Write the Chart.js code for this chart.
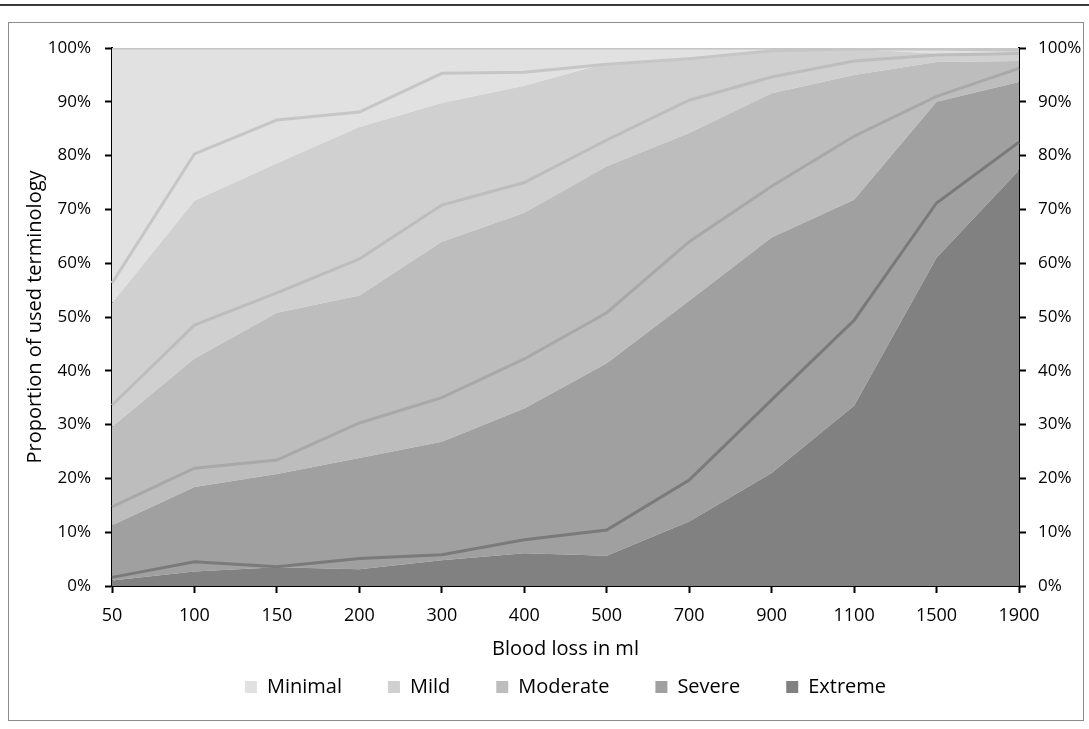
<!DOCTYPE html>
<html><head><meta charset="utf-8">
<script src="https://cdn.jsdelivr.net/npm/chart.js@4.4.1/dist/chart.umd.min.js"></script>
<style>
html,body{margin:0;padding:0;background:#fff;}
body{width:1089px;height:729px;position:relative;overflow:hidden;}
#topline{position:absolute;left:0;top:4px;width:1089px;height:2px;background:#3a3a3a;}
#frame{position:absolute;left:8px;top:22px;width:1074px;height:697px;border:1px solid #8c8c8c;}
#wrap{position:absolute;left:0;top:0;width:1074px;height:697px;}
</style></head><body>
<div id="topline"></div>
<div id="frame"><div id="wrap"><canvas id="c"></canvas></div></div>
<script>
// Categories (blood loss in ml)
const categories = ['50','100','150','200','300','400','500','700','900','1100','1500','1900'];
const yTickLabels = ['0%','10%','20%','30%','40%','50%','60%','70%','80%','90%','100%'];

// Group A (filled areas): proportion (%) of each term per category
const extremeA  = [1.0, 2.7, 3.5, 3.1, 4.8, 6.1, 5.6, 12.0, 21.0, 33.5, 61.0, 77.3];
const severeA   = [10.3, 15.7, 17.3, 20.7, 22.0, 26.9, 35.8, 41.0, 43.8, 38.3, 29.0, 16.4];
const moderateA = [18.3, 23.9, 30.0, 30.2, 37.2, 36.4, 36.6, 31.2, 26.8, 23.2, 7.4, 3.9];
const mildA     = [23.0, 29.3, 27.8, 31.3, 25.8, 23.6, 19.2, 13.8, 7.9, 4.8, 1.6, 1.6];
const minimalA  = [47.4, 28.4, 21.4, 14.7, 10.2, 7.0, 2.8, 2.0, 0.5, 0.2, 1.0, 0.8];

// Group B (lines): proportion (%) of each term per category
const extremeB  = [1.6, 4.5, 3.6, 5.1, 5.8, 8.6, 10.4, 19.7, 34.6, 49.4, 71.2, 82.5];
const severeB   = [13.1, 17.4, 19.8, 25.2, 29.2, 33.6, 40.4, 44.3, 39.7, 34.2, 19.8, 13.7];
const moderateB = [18.9, 26.6, 31.1, 30.5, 35.8, 32.8, 32.1, 26.3, 20.3, 14.0, 7.7, 2.8];
const mildB     = [22.7, 31.8, 32.1, 27.3, 24.5, 20.5, 14.1, 7.7, 4.9, 2.2, 1.1, 0.6];
const minimalB  = [43.7, 19.7, 13.4, 11.9, 4.7, 4.5, 3.0, 2.0, 0.5, 0.2, 0.2, 0.4];

const termNames = ['Extreme','Severe','Moderate','Mild','Minimal'];
const areaColors = ['#818181','#a0a0a0','#bdbdbd','#d0d0d0','#e1e1e1'];
const lineColors = ['#7a7a7a','#a8a8a8','#bdbdbd','#c6c6c6','#c4c4c4'];

const FONT = "'Open Sans', sans-serif";
Chart.defaults.font.family = FONT;
Chart.defaults.font.size = 17;
Chart.defaults.color = '#000';

const areaData = [extremeA, severeA, moderateA, mildA, minimalA];
const lineData = [extremeB, severeB, moderateB, mildB, minimalB];

const datasets = [];
areaData.forEach((d, i) => {
  datasets.push({
    label: termNames[i], data: d, stack: 'A', order: 2,
    backgroundColor: areaColors[i], borderColor: areaColors[i], borderWidth: 0,
    fill: i === 0 ? 'origin' : '-1', pointRadius: 0, pointHoverRadius: 0, tension: 0
  });
});
lineData.forEach((d, i) => {
  datasets.push({
    label: termNames[i] + ' ', data: d, stack: 'B', order: 1,
    borderColor: lineColors[i], backgroundColor: lineColors[i], borderWidth: 3,
    fill: false, pointRadius: 0, pointHoverRadius: 0, tension: 0
  });
});

const yTicks = {
  stepSize: 10, padding: 14, font: {size: 17},
  callback: (v) => yTickLabels[Math.round(v / 10)]
};

new Chart(document.getElementById('c'), {
  type: 'line',
  data: { labels: categories, datasets },
  options: {
    responsive: true, maintainAspectRatio: false, animation: false,
    layout: { padding: { top: 25, bottom: 13, left: 0, right: 0 } },
    plugins: {
      tooltip: { enabled: false },
      legend: {
        position: 'bottom', fullSize: false,
        labels: {
          boxWidth: 12, boxHeight: 12, padding: 46, font: {size: 20},
          filter: (item) => item.datasetIndex < 5,
          sort: (a, b) => b.datasetIndex - a.datasetIndex
        }
      }
    },
    scales: {
      x: {
        type: 'category', offset: false, z: 1,
        grid: { drawOnChartArea: false, drawTicks: true, tickLength: 7, tickColor: '#000', tickWidth: 2, offset: false },
        border: { display: true, color: '#000', width: 2 },
        ticks: { padding: 12, autoSkip: false, maxRotation: 0, font: {size: 18} },
        title: { display: true, text: 'Blood loss in ml', font: {size: 20}, padding: { top: 0, bottom: -30 } },
        afterFit: (s) => { s.height = 45; }
      },
      y: {
        stacked: true, min: 0, max: 100, position: 'left', z: 1,
        ticks: yTicks,
        grid: {
          color: (ctx) => (ctx.tick && (ctx.tick.value === 0 || ctx.tick.value === 100)) ? 'rgba(0,0,0,0)' : 'rgba(188,188,188,0.3)',
          lineWidth: 1, tickLength: 7, tickColor: '#000', tickWidth: 2
        },
        border: { display: true, color: '#000', width: 2 },
        title: { display: true, text: 'Proportion of used terminology', font: {size: 20}, padding: { top: 14, bottom: 0 } },
        afterFit: (s) => { s.width = 103; }
      },
      y2: {
        min: 0, max: 100, position: 'right', z: 1,
        ticks: Object.assign({}, yTicks, { padding: 12 }),
        grid: { drawOnChartArea: false, tickLength: 7, tickColor: '#000', tickWidth: 2 },
        border: { display: true, color: '#000', width: 2 },
        afterFit: (s) => { s.width = 64; }
      }
    }
  }
});
</script>
</body></html>
